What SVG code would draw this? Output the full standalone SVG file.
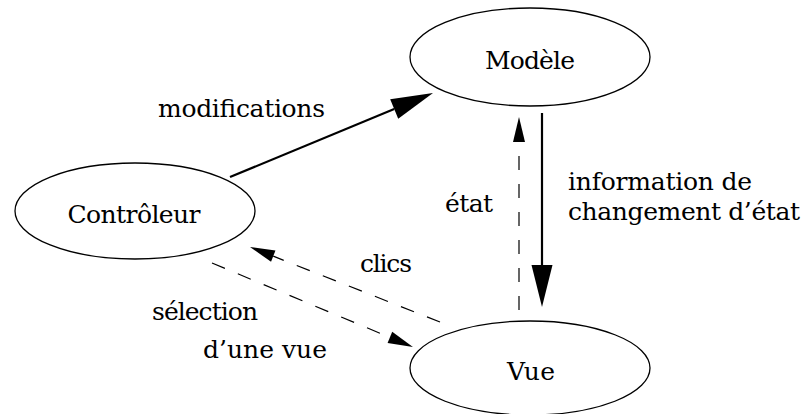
<svg xmlns="http://www.w3.org/2000/svg" width="801" height="414" viewBox="0 0 801 414">
<style>
.node ellipse{fill:#fff;stroke:#000;stroke-width:1.3}
text{font-family:'DejaVu Serif','Liberation Serif',serif;font-size:25px;fill:#000}
.c{text-anchor:middle}
.solid{fill:none;stroke:#000;stroke-width:2.2}
.dash{fill:none;stroke:#000;stroke-width:1.2;stroke-dasharray:14 14}
</style>
<defs>
<marker id="big" markerUnits="userSpaceOnUse" markerWidth="44" markerHeight="24" refX="0" refY="10.5" orient="auto" overflow="visible">
<path d="M0,0 L42,10.5 L0,21 Z" fill="#000"/>
</marker>
<marker id="small" markerUnits="userSpaceOnUse" markerWidth="26" markerHeight="14" refX="0" refY="6" orient="auto" overflow="visible">
<path d="M0,0 L25,6 L0,12 Z" fill="#000"/>
</marker>
</defs>
<g id="modele" class="node">
<ellipse cx="530" cy="57" rx="120" ry="49"/>
<text x="530" y="69" class="c" textLength="90">Modèle</text>
</g>
<g id="controleur" class="node">
<ellipse cx="135" cy="211" rx="120" ry="48"/>
<text x="134" y="223" class="c" textLength="133">Contrôleur</text>
</g>
<g id="vue" class="node">
<ellipse cx="530" cy="368" rx="120" ry="47"/>
<text x="531" y="380" class="c" textLength="48">Vue</text>
</g>
<g id="connectors">
<path class="solid" d="M230,177 L394.2,109.05" marker-end="url(#big)"/>
<path class="solid" d="M542,113 L542,265" marker-end="url(#big)"/>
<path class="dash" d="M519,310 L519,142" marker-end="url(#small)"/>
<path class="dash" d="M440,322 L273.25,256.18" marker-end="url(#small)"/>
<path class="dash" d="M212,263 L389.9,337.4" marker-end="url(#small)"/>
</g>
<g id="labels">
<text x="158" y="117" textLength="167">modifications</text>
<text x="568" y="190" textLength="184">information de</text>
<text x="568" y="220" textLength="232">changement d’état</text>
<text x="445" y="212" textLength="48">état</text>
<text x="360" y="272" textLength="52">clics</text>
<text x="152" y="320" textLength="106">sélection</text>
<text x="203" y="358" textLength="124">d’une vue</text>
</g>
</svg>
